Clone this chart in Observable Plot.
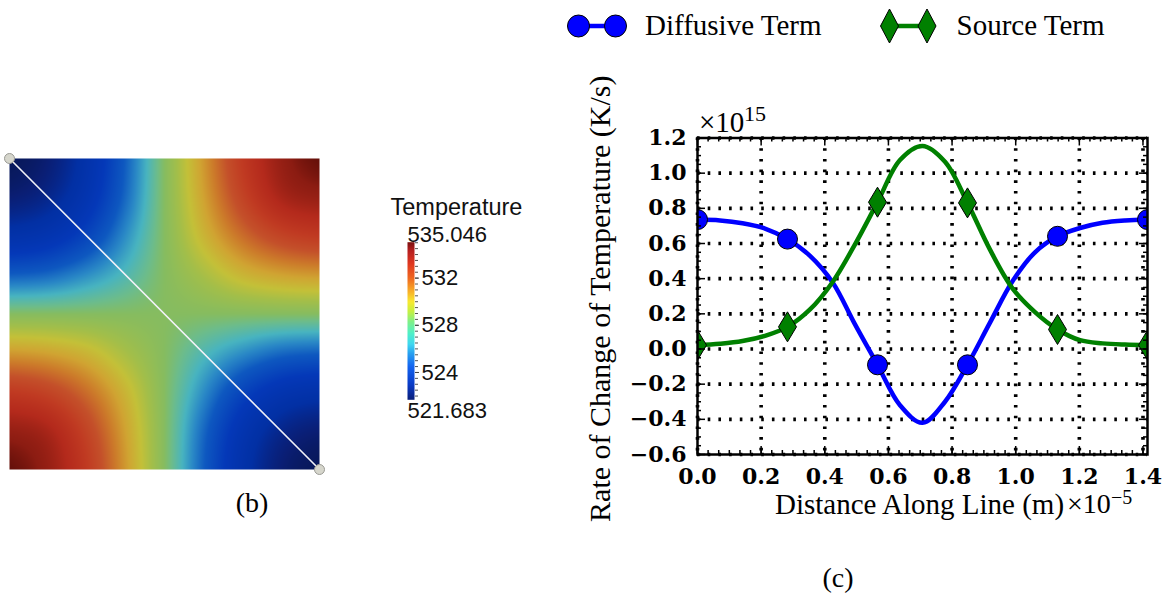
<!DOCTYPE html>
<html><head><meta charset="utf-8">
<script src="https://cdn.jsdelivr.net/npm/d3@7"></script>
<script src="https://cdn.jsdelivr.net/npm/@observablehq/plot@0.6"></script>
<style>
body{margin:0;background:#fff;}
#root{position:relative;width:1173px;height:593px;overflow:hidden;background:#fff;}
#root > *{position:absolute;}
</style></head><body><div id="root"></div>
<script>
// ---------- Panel (c) data: distance along the diagonal (x 1e-5 m) ----------
const distance  = [0, 0.0707, 0.1414, 0.2121, 0.2828, 0.3536, 0.4243, 0.4950, 0.5657, 0.6364, 0.7071, 0.7778, 0.8485, 0.9192, 0.9899, 1.0607, 1.1314, 1.2021, 1.2728, 1.3435, 1.4142];
const diffusive = [0.736, 0.731, 0.715, 0.685, 0.625, 0.530, 0.380, 0.140, -0.090, -0.320, -0.420, -0.300, -0.090, 0.150, 0.385, 0.550, 0.641, 0.688, 0.718, 0.731, 0.736];
const source    = [0.022, 0.030, 0.045, 0.075, 0.126, 0.225, 0.380, 0.595, 0.835, 1.075, 1.155, 1.065, 0.831, 0.565, 0.345, 0.210, 0.111, 0.050, 0.032, 0.025, 0.022];
const markerStride = 4;
const seriesNames = ["Diffusive Term", "Source Term"];
const xTicks = [0, 0.2, 0.4, 0.6, 0.8, 1.0, 1.2, 1.4];
const yTicks = [-0.6, -0.4, -0.2, 0.0, 0.2, 0.4, 0.6, 0.8, 1.0, 1.2];
const xLabel = "Distance Along Line (m)";
const yLabel = "Rate of Change of Temperature (K/s)";

// ---------- Panel (b) data: temperature on the unit square (rows top -> bottom) ----------
const gridCoords = [0, 0.125, 0.25, 0.375, 0.5, 0.625, 0.75, 0.875, 1];
const temperatureRows = [
  [521.7, 522.2, 523.6, 525.8, 528.4, 530.9, 533.1, 534.5, 535.0],
  [522.2, 522.7, 524.0, 526.0, 528.4, 530.7, 532.7, 534.1, 534.5],
  [523.6, 524.0, 525.0, 526.6, 528.4, 530.2, 531.7, 532.7, 533.1],
  [525.8, 526.0, 526.6, 527.4, 528.4, 529.3, 530.2, 530.7, 530.9],
  [528.4, 528.4, 528.4, 528.4, 528.4, 528.4, 528.4, 528.4, 528.4],
  [530.9, 530.7, 530.2, 529.3, 528.4, 527.4, 526.6, 526.0, 525.8],
  [533.1, 532.7, 531.7, 530.2, 528.4, 526.6, 525.0, 524.0, 523.6],
  [534.5, 534.1, 532.7, 530.7, 528.4, 526.0, 524.0, 522.7, 522.2],
  [535.0, 534.5, 533.1, 530.9, 528.4, 525.8, 523.6, 522.2, 521.7]
];
const lineX = [0, 1];
const lineY = [1, 0];
const tempMin = 521.683, tempMax = 535.046;
const colorbarTicks = [524, 528, 532];
const colorbarTitle = "Temperature";

// colour ramps (displayed field is shaded, bar is saturated)
const heatStops  = [521.683, 522.2, 523.2, 524.5, 525.7, 526.5, 527.2, 527.9, 528.4, 529.2, 529.9, 530.7, 531.5, 532.3, 533.1, 533.9, 534.7, 535.046];
const heatColors = ["#081858", "#0a1e74", "#0230a4", "#0438b8", "#0e58c0", "#2a88c6", "#48b4c0", "#6cbc8c", "#86bc60", "#a2be4a", "#c4c038", "#d0a432", "#cc7a2a", "#c4502a", "#c03a22", "#b42a1c", "#8c1c12", "#5e0e08"];
const barStops  = [521.683, 523.0, 524.5, 525.6, 526.4, 527.3, 528.3, 529.2, 530.0, 531.0, 532.0, 533.2, 534.3, 535.046];
const barColors = ["#0a1f7a", "#0a3cc8", "#1464f0", "#28a0f0", "#40d8f0", "#50f0c8", "#80f088", "#c8f040", "#f8e830", "#f8a828", "#f06820", "#e03820", "#b82020", "#7a1010"];

const root = document.getElementById("root");
function place(el, left, top){ el.style.left = left + "px"; el.style.top = top + "px"; root.appendChild(el); }

// ---------------- Panel (b): field ----------------
const n = gridCoords.length - 1;
function cr(p0, p1, p2, p3, t){ // Catmull-Rom
  return 0.5 * ((2 * p1) + (-p0 + p2) * t + (2 * p0 - 5 * p1 + 4 * p2 - p3) * t * t + (-p0 + 3 * p1 - 3 * p2 + p3) * t * t * t);
}
function cell(i, j){ i = Math.max(0, Math.min(n, i)); j = Math.max(0, Math.min(n, j)); return temperatureRows[i][j]; }
function sampleField(x, y){
  const gx = x * n, gy = (1 - y) * n;
  const j = Math.min(n - 1, Math.floor(gx)), i = Math.min(n - 1, Math.floor(gy));
  const tx = gx - j, ty = gy - i;
  const r = [-1, 0, 1, 2].map(di => cr(cell(i + di, j - 1), cell(i + di, j), cell(i + di, j + 1), cell(i + di, j + 2), tx));
  return cr(r[0], r[1], r[2], r[3], ty);
}
const diag = lineX.map((x, i) => ({x, y: lineY[i]}));
const field = Plot.plot({
  width: 310, height: 311, margin: 0,
  style: {overflow: "visible", background: "transparent"},
  x: {domain: [0, 1], axis: null},
  y: {domain: [0, 1], axis: null},
  color: {type: "linear", domain: heatStops, range: heatColors, interpolate: "rgb", clamp: true},
  marks: [
    Plot.raster({x1: 0, x2: 1, y1: 0, y2: 1, fill: (x, y) => sampleField(x, y), pixelSize: 1}),
    Plot.line(diag, {x: "x", y: "y", stroke: "#f2f2f8", strokeWidth: 1.6}),
    Plot.dot(diag, {x: "x", y: "y", r: 5, fill: "#d6d6cc", stroke: "#9a9a94", strokeWidth: 1})
  ]
});
place(field, 9, 158);

// ---------------- Colorbar ----------------
const cbar = Plot.plot({
  width: 160, height: 250,
  marginTop: 61.7, marginBottom: 30.7, marginLeft: 27, marginRight: 126,
  style: {overflow: "visible", background: "transparent", fontFamily: "Liberation Sans, Arial, sans-serif", fontSize: "22px", color: "#111"},
  x: {domain: [0, 1], axis: null},
  y: {domain: [tempMin, tempMax], axis: null},
  color: {type: "linear", domain: barStops, range: barColors, interpolate: "rgb"},
  marks: [
    Plot.raster({x1: 0, x2: 1, y1: tempMin, y2: tempMax, fill: (x, y) => y, pixelSize: 1}),
    Plot.axisY(d3.range(522, 535.01, 0.5), {anchor: "right", tickSize: 3, tickFormat: () => "", stroke: "#555", label: null}),
    Plot.axisY(colorbarTicks, {anchor: "right", tickSize: 4, tickPadding: 3, fontSize: 22, label: null, stroke: "#444"}),
    Plot.text([tempMax], {y: d => d, text: d => d.toFixed(3), frameAnchor: "left", textAnchor: "start", lineAnchor: "bottom", dy: 0, fontSize: 22}),
    Plot.text([tempMin], {y: d => d, text: d => d.toFixed(3), frameAnchor: "left", textAnchor: "start", lineAnchor: "top", dy: 3, fontSize: 22}),
    Plot.text([colorbarTitle], {frameAnchor: "top-left", textAnchor: "start", lineAnchor: "bottom", dx: -17, dy: -27, fontSize: 23.5})
  ]
});
place(cbar, 380, 180);

// ---------------- Panel (c): line chart ----------------
const W = 613, H = 593, mL = 137, mR = 26, mT = 137.5, mB = 139;
const fw = W - mL - mR, fh = H - mT - mB;
const rows = distance.map((s, i) => ({s, diff: diffusive[i], src: source[i], i}));
const markers = rows.filter(d => d.i % markerStride === 0);
const thinDiamond = {draw(ctx, size){ const r = Math.sqrt(size / Math.PI); ctx.moveTo(0, -1.5 * r); ctx.lineTo(0.9 * r, 0); ctx.lineTo(0, 1.5 * r); ctx.lineTo(-0.9 * r, 0); ctx.closePath(); }};
const xMinor = d3.range(0, 1.4142, 0.2 / 6);
const yMinor = d3.range(-0.6, 1.2001, 0.05);
const fmt = d3.format(".1f");
const serif = "Liberation Serif, Times New Roman, serif";
const gridStyle = {stroke: "#000", strokeOpacity: 1, strokeWidth: 3.6, strokeDasharray: "2.6,8.1"};
const chart = Plot.plot({
  width: W, height: H, marginLeft: mL, marginRight: mR, marginTop: mT, marginBottom: mB,
  style: {overflow: "visible", background: "transparent", fontFamily: "DejaVu Serif, serif", fontSize: "22px", fontWeight: "bold", color: "#000"},
  x: {domain: [0, 1.4142], axis: null},
  y: {domain: [-0.6, 1.2], axis: null},
  marks: [
    Plot.gridX(xTicks, gridStyle),
    Plot.gridY(yTicks, gridStyle),
    Plot.line(rows, {x: "s", y: "diff", stroke: "#0000ff", strokeWidth: 4.5, curve: "catmull-rom", clip: true}),
    Plot.dot(markers, {x: "s", y: "diff", r: 10, fill: "#0000ff", stroke: "#000", strokeWidth: 1, clip: true}),
    Plot.line(rows, {x: "s", y: "src", stroke: "#008000", strokeWidth: 4.5, curve: "catmull-rom", clip: true}),
    Plot.dot(markers, {x: "s", y: "src", r: 10, symbol: thinDiamond, fill: "#008000", stroke: "#000", strokeWidth: 1, clip: true}),
    // inward ticks on all four sides
    Plot.ruleX(xTicks, {x: d => d, stroke: "#000", strokeWidth: 1.5, insetTop: fh - 8}),
    Plot.ruleX(xTicks, {x: d => d, stroke: "#000", strokeWidth: 1.5, insetBottom: fh - 8}),
    Plot.ruleX(xMinor, {x: d => d, stroke: "#000", strokeWidth: 1.5, insetTop: fh - 4}),
    Plot.ruleX(xMinor, {x: d => d, stroke: "#000", strokeWidth: 1.5, insetBottom: fh - 4}),
    Plot.ruleY(yTicks, {y: d => d, stroke: "#000", strokeWidth: 1.5, insetRight: fw - 8}),
    Plot.ruleY(yTicks, {y: d => d, stroke: "#000", strokeWidth: 1.5, insetLeft: fw - 8}),
    Plot.ruleY(yMinor, {y: d => d, stroke: "#000", strokeWidth: 1.5, insetRight: fw - 4}),
    Plot.ruleY(yMinor, {y: d => d, stroke: "#000", strokeWidth: 1.5, insetLeft: fw - 4}),
    Plot.frame({stroke: "#000", strokeWidth: 2.5}),
    Plot.axisX(xTicks, {tickSize: 0, tickPadding: 14, tickFormat: fmt, label: null, fontSize: 22, fontWeight: "bold"}),
    Plot.axisY(yTicks, {tickSize: 0, tickPadding: 11, tickFormat: fmt, label: null, fontSize: 22, fontWeight: "bold"}),
    Plot.text([xLabel], {frameAnchor: "bottom", textAnchor: "middle", lineAnchor: "bottom", dx: -3, dy: 59, fontFamily: serif, fontSize: 29, fontWeight: "normal"}),
    Plot.text([yLabel], {frameAnchor: "left", textAnchor: "middle", lineAnchor: "middle", rotate: -90, dx: -97, dy: 2.5, fontFamily: serif, fontSize: 30, fontWeight: "normal"})
  ]
});
place(chart, 560, 0);

// ---------------- Legend, multipliers, captions (overlay) ----------------
const NS = "http://www.w3.org/2000/svg";
const ov = document.createElementNS(NS, "svg");
ov.setAttribute("width", 1173); ov.setAttribute("height", 593);
ov.style.pointerEvents = "none";
ov.innerHTML = `
 <g font-family="${serif}" fill="#000">
  <line x1="578.5" y1="26" x2="615.5" y2="26" stroke="#0000ff" stroke-width="4.5"/>
  <circle cx="578.5" cy="26" r="11" fill="#0000ff" stroke="#000" stroke-width="1"/>
  <circle cx="615.5" cy="26" r="11" fill="#0000ff" stroke="#000" stroke-width="1"/>
  <text x="645" y="35" font-size="29">${seriesNames[0]}</text>
  <line x1="889.5" y1="26" x2="927" y2="26" stroke="#008000" stroke-width="4.5"/>
  <path d="M889.5,9L898.5,26L889.5,43L880.5,26Z" fill="#008000" stroke="#000" stroke-width="1"/>
  <path d="M927,9L936,26L927,43L918,26Z" fill="#008000" stroke="#000" stroke-width="1"/>
  <text x="956.5" y="35" font-size="29">${seriesNames[1]}</text>
  <text x="699" y="131.5" font-size="29">×10</text>
  <text x="744" y="121" font-size="22">15</text>
  <text x="1067" y="513" font-size="28">×10</text>
  <text x="1111" y="504" font-size="20">−5</text>
  <text x="252" y="512" font-size="28" text-anchor="middle">(b)</text>
  <text x="838" y="587" font-size="28" text-anchor="middle">(c)</text>
 </g>`;
place(ov, 0, 0);
</script>
</body></html>
